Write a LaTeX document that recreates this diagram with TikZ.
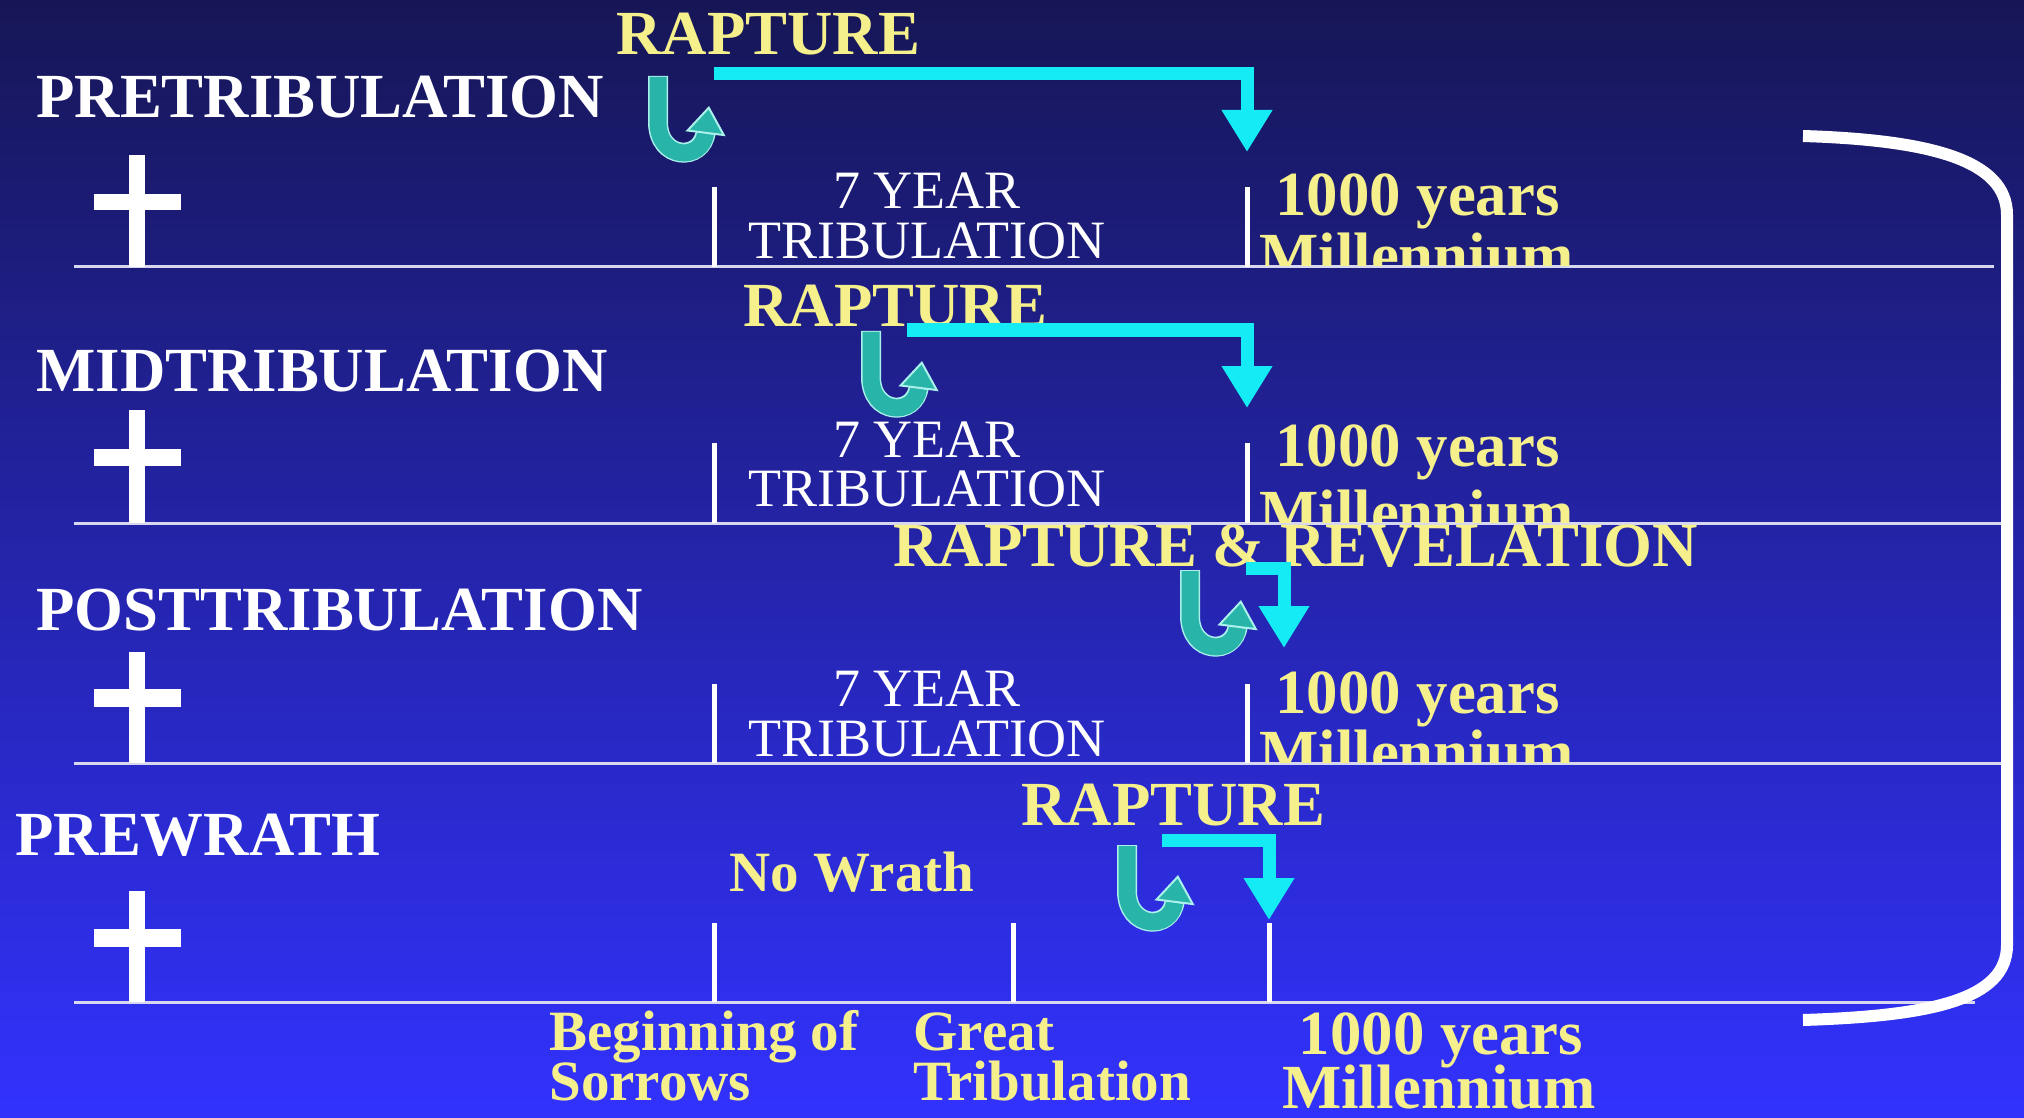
\documentclass[tikz,border=0pt]{standalone}
\usepackage{fontspec}
\setmainfont{Liberation Serif}
\usetikzlibrary{arrows.meta}
\definecolor{bgtop}{RGB}{22,22,86}
\definecolor{bgbot}{RGB}{50,50,255}
\definecolor{ytext}{RGB}{245,240,140}
\definecolor{cyanarrow}{RGB}{20,235,245}
\definecolor{hookteal}{RGB}{40,180,168}
\definecolor{hookedge}{RGB}{170,240,235}
\definecolor{lineclr}{RGB}{215,215,240}
\tikzset{
  lbl/.style={inner sep=0, anchor=base west, text=white, font=\fontsize{31.4}{36}\selectfont\bfseries},
  ylbl/.style={inner sep=0, anchor=base west, text=ytext, font=\fontsize{31.4}{36}\selectfont\bfseries},
  yctr/.style={inner sep=0, anchor=base, text=ytext, font=\fontsize{31.4}{36}\selectfont\bfseries},
  ysmall/.style={inner sep=0, anchor=base west, text=ytext, font=\fontsize{28.5}{32}\selectfont\bfseries},
  ysmallc/.style={inner sep=0, anchor=base, text=ytext, font=\fontsize{28.5}{32}\selectfont\bfseries},
  wreg/.style={inner sep=0, anchor=base, text=white, font=\fontsize{27}{30}\selectfont},
  timeline/.style={draw=lineclr, line width=1.5pt},
  tickmark/.style={draw=white, line width=2.5pt},
  crossbar/.style={fill=white},
  jumparrow/.style={draw=cyanarrow, line width=6.5pt, miter limit=10, -{Triangle[width=24pt,length=21pt]}},
  hookline/.style={draw=hookteal, line width=8.5pt, -{Triangle[width=20pt,length=14pt,fill=hookteal,color=hookedge,line width=1pt]}},
  hookrim/.style={draw=hookedge, line width=10pt, shorten >=13pt},
  bracketline/.style={draw=white, line width=6pt}
}
\newcommand\uturnat[1]{%
  \begin{scope}[shift={#1}]
    \draw[hookrim] (9,2) -- (9,48) .. controls (9,86) and (53,88) .. (60,32);
    \draw[hookline] (9,3) -- (9,48) .. controls (9,86) and (53,88) .. (60,32);
  \end{scope}}
\begin{document}
\begin{tikzpicture}[x=0.5pt,y=-0.5pt]
\useasboundingbox (0,0) rectangle (2024,1118);
\shade[top color=bgtop, bottom color=bgbot] (0,0) rectangle (2024,1118);

% timelines
\draw[timeline] (74,267) -- (1994,267);
\draw[timeline] (74,523) -- (2004,523);
\draw[timeline] (74,763) -- (2004,763);
\draw[timeline] (74,1002) -- (1975,1002);

% crosses
\fill[crossbar] (129,155) rectangle (145,267);
\fill[crossbar] (94,194) rectangle (181,210);
\fill[crossbar] (129,410) rectangle (145,523);
\fill[crossbar] (94,449) rectangle (181,466);
\fill[crossbar] (129,652) rectangle (145,763);
\fill[crossbar] (94,689) rectangle (181,707);
\fill[crossbar] (129,891) rectangle (145,1002);
\fill[crossbar] (94,929) rectangle (181,947);

% ticks
\draw[tickmark] (714,187) -- (714,267);
\draw[tickmark] (1247,187) -- (1247,267);
\draw[tickmark] (714,443) -- (714,523);
\draw[tickmark] (1247,443) -- (1247,523);
\draw[tickmark] (714,684) -- (714,763);
\draw[tickmark] (1247,684) -- (1247,763);
\draw[tickmark] (714,923) -- (714,1002);
\draw[tickmark] (1013,923) -- (1013,1002);
\draw[tickmark] (1269,923) -- (1269,1002);

% row 1
\node[lbl] (pre) at (36,118) {PRETRIBULATION};
\node[ylbl] (preR) at (616,55) {RAPTURE};
\node[wreg] (preY) at (927,209) {7 YEAR};
\node[wreg] (preT) at (927,259) {TRIBULATION};
\node[ylbl] (preK) at (1275,216) {1000 years};
\begin{scope}\clip (1200,150) rectangle (1700,266);
\node[ylbl] (preM) at (1259,277) {Millennium};
\end{scope}

% row 2
\node[lbl] (mid) at (36,391) {MIDTRIBULATION};
\node[ylbl] (midR) at (743,327) {RAPTURE};
\node[wreg] (midY) at (927,457) {7 YEAR};
\node[wreg] (midT) at (927,506) {TRIBULATION};
\node[ylbl] (midK) at (1275,466) {1000 years};
\begin{scope}\clip (1200,400) rectangle (1700,522);
\node[ylbl] (midM) at (1259,533) {Millennium};
\end{scope}

% row 3
\node[lbl] (post) at (36,630) {POSTTRIBULATION};
\node[ylbl] (postR) at (893,566) {RAPTURE \& REVELATION};
\node[wreg] (postY) at (927,706) {7 YEAR};
\node[wreg] (postT) at (927,756) {TRIBULATION};
\node[ylbl] (postK) at (1275,713) {1000 years};
\begin{scope}\clip (1200,640) rectangle (1700,762);
\node[ylbl] (postM) at (1259,773) {Millennium};
\end{scope}

% row 4
\node[lbl] (prew) at (15,855) {PREWRATH};
\node[ylbl] (prewR) at (1021,825) {RAPTURE};
\node[ysmallc] (prewN) at (852,891) {No Wrath};
\node[ysmall] (prewB) at (549,1050) {Beginning of};
\node[ysmall] (prewS) at (549,1100) {Sorrows};
\node[ysmall] (prewG) at (913,1050) {Great};
\node[ysmall] (prewT) at (913,1100) {Tribulation};
\node[yctr] (prewK) at (1441,1054) {1000 years};
\node[yctr] (prewM) at (1439,1108) {Millennium};

% u-turn arrows
\uturnat{(649,74)}
\uturnat{(862,329)}
\uturnat{(1181,568)}
\uturnat{(1118,843)}

% jump arrows
\coordinate (j1a) at (714,74);  \coordinate (j1b) at (1247,74);  \coordinate (j1c) at (1247,152);
\coordinate (j2a) at (907,330); \coordinate (j2b) at (1247,330); \coordinate (j2c) at (1247,408);
\coordinate (j3a) at (1246,568); \coordinate (j3b) at (1284,568); \coordinate (j3c) at (1284,648);
\coordinate (j4a) at (1162,840); \coordinate (j4b) at (1269,840); \coordinate (j4c) at (1269,920);
\draw[jumparrow] (j1a) -- (j1b) -- (j1c);
\draw[jumparrow] (j2a) -- (j2b) -- (j2c);
\draw[jumparrow] (j3a) -- (j3b) -- (j3c);
\draw[jumparrow] (j4a) -- (j4b) -- (j4c);

% bracket
\draw[bracketline] (1803,136) .. controls (1930,140) and (2007,160) .. (2007,215) -- (2007,945) .. controls (2007,1000) and (1930,1016) .. (1803,1020);
\end{tikzpicture}
\end{document}
